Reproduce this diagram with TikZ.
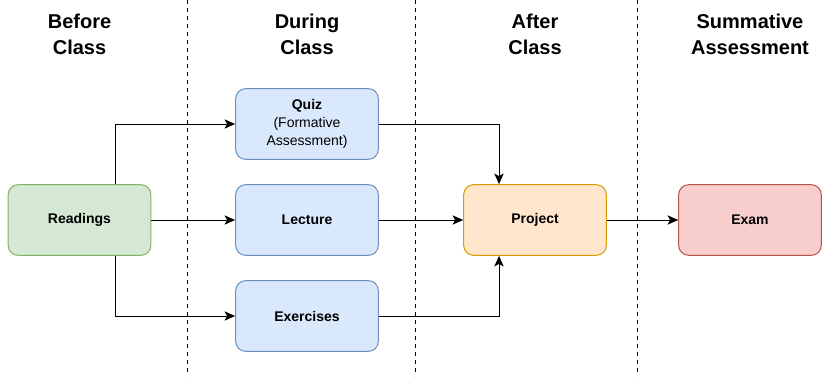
\documentclass[tikz,border=0pt]{standalone}
\usepackage{fontspec}
\setsansfont{Liberation Sans}
\usetikzlibrary{arrows.meta,positioning}
\definecolor{readfill}{HTML}{D5E8D4}
\definecolor{readline}{HTML}{82B366}
\definecolor{classfill}{HTML}{DAE8FC}
\definecolor{classline}{HTML}{6C8EBF}
\definecolor{projfill}{HTML}{FFE6CC}
\definecolor{projline}{HTML}{D79B00}
\definecolor{examfill}{HTML}{F8CECC}
\definecolor{examline}{HTML}{B85450}

\begin{document}
\begin{tikzpicture}[
  x=0.75pt, y=-0.75pt,
  every node/.style={font=\sffamily},
  stagebox/.style={draw, rounded corners=7.5pt, line width=0.75pt,
    minimum width=107pt, minimum height=53pt, align=center,
    font=\sffamily\bfseries\fontsize{10.5}{13.5}\selectfont},
  heading/.style={align=center,
    font=\sffamily\bfseries\fontsize{15}{19.5}\selectfont},
  divider/.style={dashed, line width=0.75pt, dash pattern=on 3pt off 3pt},
  flow/.style={line width=0.75pt, -{Stealth[length=8pt,width=7pt,inset=2pt]}}
]
\useasboundingbox (0,0) rectangle (822,376);

% column headings
\node[heading] (hbefore) at (79.5,34) {Before\\Class};
\node[heading] (hduring) at (307,34) {During\\Class};
\node[heading] (hafter) at (535,34) {After\\Class};
\node[heading] (hsumm) at (750,34) {Summative\\Assessment};

% column dividers
\draw[divider] (187,0) -- (187,376);
\draw[divider] (415,0) -- (415,376);
\draw[divider] (637,0) -- (637,376);

% activities
\node[stagebox, fill=readfill, draw=readline] (readings) at (79.5,220) {Readings};
\node[stagebox, fill=classfill, draw=classline] (quiz) at (307,124)
  {Quiz\\{\mdseries(Formative}\\{\mdseries Assessment)}};
\node[stagebox, fill=classfill, draw=classline] (lecture) at (307,220) {Lecture};
\node[stagebox, fill=classfill, draw=classline] (exercises) at (307,316) {Exercises};
\node[stagebox, fill=projfill, draw=projline] (project) at (535,220) {Project};
\node[stagebox, fill=examfill, draw=examline] (exam) at (750,220) {Exam};

% connectors
\draw[flow] ([xshift=27pt]readings.north) |- (quiz.west);
\draw[flow] (readings) -- (lecture);
\draw[flow] ([xshift=27pt]readings.south) |- (exercises.west);
\draw[flow] (quiz.east) -| ([xshift=-27pt]project.north);
\draw[flow] (lecture) -- (project);
\draw[flow] (exercises.east) -| ([xshift=-27pt]project.south);
\draw[flow] (project) -- (exam);

\end{tikzpicture}
\end{document}
